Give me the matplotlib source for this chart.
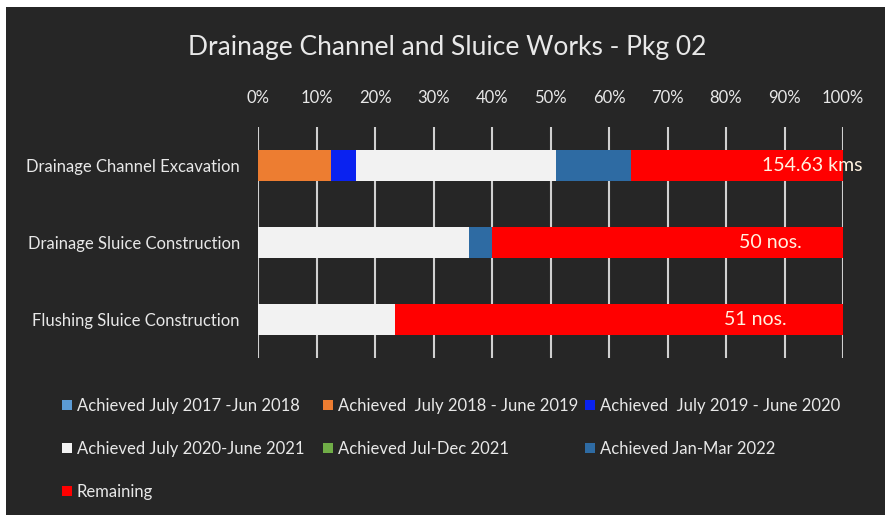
import matplotlib.pyplot as plt
import numpy as np
from matplotlib.patches import Rectangle

plt.rcParams['font.family'] = ['Lato', 'DejaVu Sans']

# data (percent of total work)
categories = ['Drainage Channel Excavation', 'Drainage Sluice Construction', 'Flushing Sluice Construction']
series_names = ['Achieved July 2017 -Jun 2018', 'Achieved  July 2018 - June 2019', 'Achieved  July 2019 - June 2020',
                'Achieved July 2020-June 2021', 'Achieved Jul-Dec 2021', 'Achieved Jan-Mar 2022', 'Remaining']
jul17_jun18 = [0, 0, 0]
jul18_jun19 = [12.4, 0, 0]
jul19_jun20 = [4.3, 0, 0]
jul20_jun21 = [34.2, 36.0, 23.5]
jul_dec21 = [0, 0, 0]
jan_mar22 = [12.8, 4.0, 0]
remaining = [36.3, 60.0, 76.5]
totals = ['154.63 kms', '50 nos.', '51 nos.']
colors = ['#5B9BD5', '#ED7D31', '#0A22F0', '#F2F2F2', '#70AD47', '#2E6BA3', '#FF0000']

bg = '#262626'
txt = '#E8E8E8'

fig = plt.figure(figsize=(8.85, 5.2), dpi=100, facecolor='white')
# dark chart area inside a thin white border
fig.patches.append(Rectangle((6 / 885, 5 / 520), 879 / 885, 508 / 520, transform=fig.transFigure,
                             facecolor=bg, edgecolor='none', zorder=-10))

ax = fig.add_axes([258 / 885, 1 - 358 / 520, 585 / 885, 231 / 520])
ax.set_facecolor(bg)

y = np.arange(len(categories))
left = np.zeros(len(categories))
handles = []
for name, vals, c in zip(series_names,
                         [jul17_jun18, jul18_jun19, jul19_jun20, jul20_jun21, jul_dec21, jan_mar22, remaining],
                         colors):
    h = ax.barh(y, vals, left=left, height=0.41, color=c, label=name, zorder=3)
    handles.append(h)
    left = left + np.array(vals)

# total labels inside the red bars
label_x = [103.4, 87.5, 85.0]
label_ha = ['right', 'center', 'center']
for yi, t, lx, ha in zip(y, totals, label_x, label_ha):
    ax.text(lx, yi, t, ha=ha, va='center', color='#FFF2E0', fontsize=14, zorder=4, clip_on=False)

ax.set_xlim(0, 100)
ax.set_ylim(len(categories) - 0.5, -0.5)
ax.set_xticks(np.arange(0, 101, 10))
ax.set_xticklabels([f'{v}%' for v in range(0, 101, 10)])
ax.xaxis.tick_top()
ax.tick_params(axis='x', length=0, pad=15, colors=txt, labelsize=12)
ax.set_yticks(y)
ax.set_yticklabels(categories)
ax.tick_params(axis='y', length=0, pad=13, colors=txt, labelsize=12)
ax.grid(axis='x', color='#D0D0D0', linewidth=1.5, zorder=0)
ax.set_axisbelow(True)
for s in ax.spines.values():
    s.set_visible(False)

fig.text(447 / 885, 1 - 47 / 520, 'Drainage Channel and Sluice Works - Pkg 02', ha='center', va='center',
         color=txt, fontsize=19)

# legend: Excel lays it out row-wise in 3 equal columns, so one legend per column
columns = [[0, 3, 6], [1, 4], [2, 5]]
col_x = [62, 323, 585]
for idx, cx in zip(columns, col_x):
    leg = fig.legend([handles[i] for i in idx], [series_names[i] for i in idx],
                     loc='upper left', bbox_to_anchor=(cx / 885, 1 - 398 / 520),
                     frameon=False, fontsize=12, labelcolor=txt, handlelength=0.6, handleheight=0.6,
                     handletextpad=0.3, labelspacing=1.62, borderpad=0, borderaxespad=0)

fig.savefig('out.png', dpi=100, facecolor=fig.get_facecolor())
